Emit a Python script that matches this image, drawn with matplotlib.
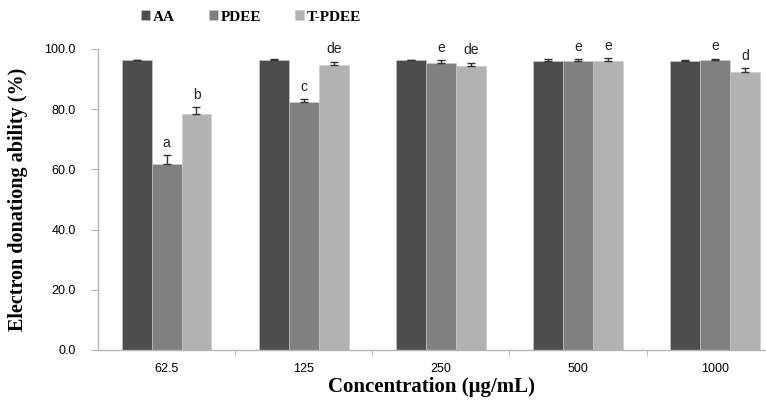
import matplotlib as mpl
import numpy as np

mpl.use("Agg")
import matplotlib.pyplot as plt

# data
concentrations = ["62.5", "125", "250", "500", "1000"]
series = ["AA", "PDEE", "T-PDEE"]
aa_vals = [96.2, 96.5, 96.2, 95.9, 95.9]
aa_err = [0.3, 0.3, 0.3, 0.8, 0.6]
pdee_vals = [61.7, 82.3, 95.2, 95.9, 96.4]
pdee_err = [3.0, 1.0, 1.0, 0.8, 0.4]
tpdee_vals = [78.3, 94.6, 94.4, 95.9, 92.4]
tpdee_err = [2.3, 1.2, 1.0, 1.0, 1.2]
pdee_letters = ["a", "c", "e", "e", "e"]
tpdee_letters = ["b", "de", "de", "e", "d"]
y_ticks = [0, 20, 40, 60, 80, 100]

COLORS = ["#4d4d4d", "#808080", "#b2b2b2"]
SPINE = "#b4b4b4"
SERIF = "Liberation Serif"
SANS = "Liberation Sans"

fig = plt.figure(figsize=(7.66, 4.03), dpi=100)
ax = fig.add_axes([98 / 766, 53 / 403, 1 - 98 / 766, 301 / 403])

x = np.arange(len(concentrations))
width = 0.218
values = [aa_vals, pdee_vals, tpdee_vals]
errors = [aa_err, pdee_err, tpdee_err]
letters = [None, pdee_letters, tpdee_letters]

for i, (vals, errs, lab) in enumerate(zip(values, errors, letters)):
    pos = x + (i - 1) * width
    ax.bar(pos, vals, width=width, color=COLORS[i], edgecolor="#c8c8c8",
           linewidth=0.4, label=series[i], zorder=2)
    ax.errorbar(pos, vals, yerr=[np.zeros(len(errs)), errs], fmt="none",
                ecolor="#333333", elinewidth=1.0, capsize=3, capthick=1.0,
                zorder=3)
    if lab is not None:
        for p, v, e, t in zip(pos, vals, errs, lab):
            ax.text(p, v + e + 1.8, t, ha="center", va="bottom",
                    fontsize=10, family=SANS, color="#222222")

ax.set_xlim(-0.5, 4.37)
ax.set_ylim(0, 100)
ax.set_yticks(y_ticks)
ax.set_yticklabels([f"{t:.1f}" for t in y_ticks], family=SANS, fontsize=9)
ax.set_xticks(x)
ax.set_xticklabels(concentrations, family=SANS, fontsize=9)
ax.set_xticks(np.arange(0.5, 4.5, 1.0), minor=True)
ax.tick_params(axis="x", which="major", length=0, pad=9)
ax.tick_params(axis="x", which="minor", length=4, color=SPINE, direction="out")
ax.tick_params(axis="y", length=5, color=SPINE, direction="out", pad=11)

for side in ["top", "right"]:
    ax.spines[side].set_visible(False)
for side in ["left", "bottom"]:
    ax.spines[side].set_color(SPINE)
    ax.spines[side].set_linewidth(1.0)

ax.set_xlabel("Concentration (μg/mL)", family=SERIF, fontweight="bold",
              fontsize=15, labelpad=2)
ax.set_ylabel("Electron donationg ability (%)", family=SERIF,
              fontweight="bold", fontsize=14.5)
ax.yaxis.set_label_coords(-70 / 668, 0.5)

fig.legend(loc="center", bbox_to_anchor=(251 / 766, 1 - 17 / 403), ncol=3,
           frameon=False, handlelength=0.6, handleheight=0.6,
           handletextpad=0.2, columnspacing=2.2,
           prop={"family": SERIF, "weight": "bold", "size": 11})

fig.savefig("out.png", dpi=100)
